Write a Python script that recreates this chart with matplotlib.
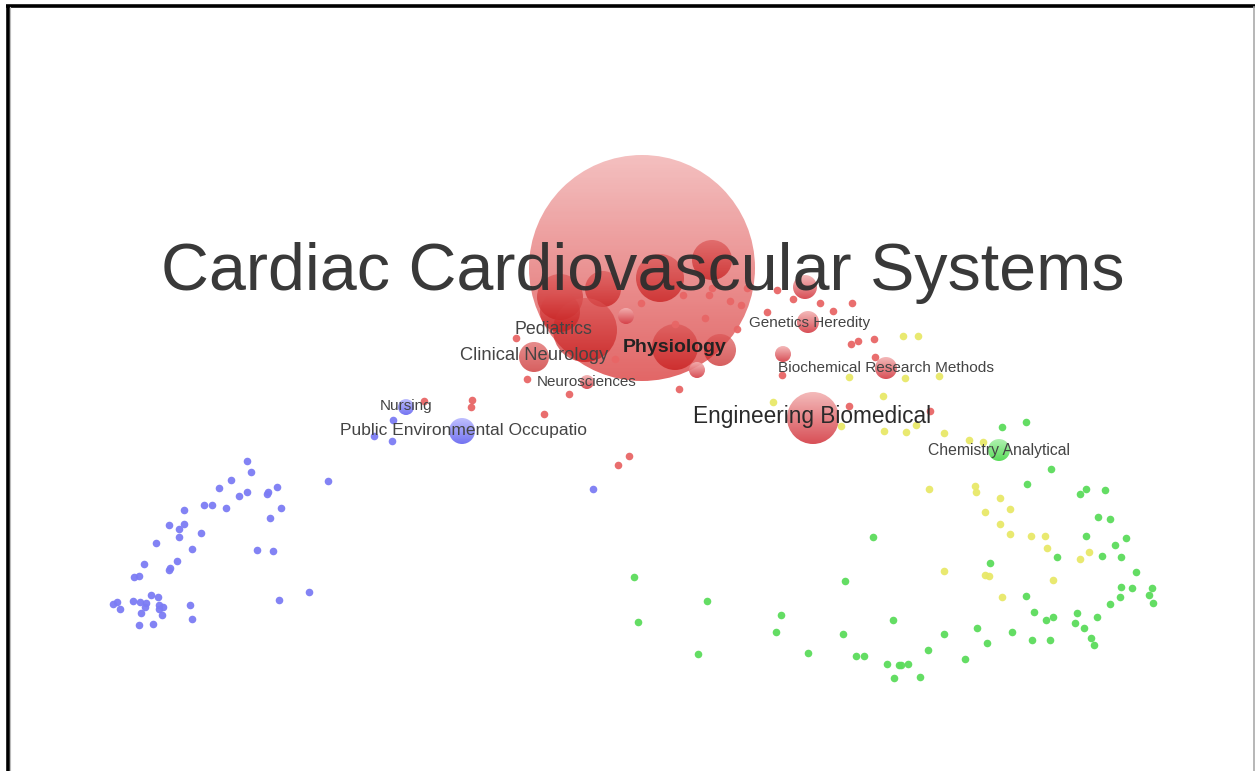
import numpy as np
import matplotlib
matplotlib.use("Agg")
import matplotlib.pyplot as plt
from matplotlib.patches import Circle
from matplotlib.colors import LinearSegmentedColormap

plt.rcParams['font.family'] = ['Liberation Sans', 'DejaVu Sans']

W, H = 1255, 771

# map coordinates (screen units of the map), radius per node
red_big_x = [642, 560, 603, 660, 712, 585, 560, 534, 675, 720, 626, 697, 587, 805, 808, 783, 813, 886]
red_big_y = [268, 297, 289, 278, 260, 330, 312, 357, 347, 350, 316, 370, 382, 287, 322, 354, 418, 368]
red_big_r = [113, 23, 18, 24, 20, 32, 20, 15, 23, 16, 8, 8, 7, 12, 11, 8, 26, 11]

red_x = [641, 683, 709, 730, 741, 712, 705, 675, 767, 737, 615, 527, 569, 679, 516, 777, 793, 820,
         852, 833, 747, 851, 858, 874, 875, 782, 849, 930, 424, 472, 471, 544, 629, 618]
red_y = [303, 295, 295, 301, 305, 288, 318, 324, 312, 329, 359, 379, 394, 389, 338, 290, 299, 303,
         303, 311, 288, 344, 341, 339, 357, 375, 406, 411, 401, 400, 407, 414, 456, 465]

blue_big_x = [406, 462]
blue_big_y = [407, 431]
blue_big_r = [8, 13]

blue_x = [247, 251, 231, 219, 328, 247, 239, 268, 267, 277, 281, 270, 204, 212, 226, 184, 169, 184,
          179, 179, 201, 192, 156, 257, 273, 144, 177, 170, 169, 134, 139, 309, 279, 151, 158, 133,
          140, 146, 145, 159, 163, 159, 113, 117, 120, 141, 162, 190, 192, 139, 153, 393, 374, 392, 593]
blue_y = [461, 472, 480, 488, 481, 492, 496, 492, 494, 487, 508, 518, 505, 505, 508, 510, 525, 524,
          529, 537, 533, 549, 543, 550, 551, 564, 561, 568, 570, 577, 576, 592, 600, 595, 597, 601,
          602, 603, 607, 605, 607, 609, 604, 602, 609, 613, 615, 605, 619, 625, 624, 420, 436, 441, 489]

green_big_x = [999]
green_big_y = [450]
green_big_r = [11]

green_x = [873, 634, 845, 707, 638, 781, 776, 893, 843, 698, 808, 856, 864, 887, 894, 899,
           1002, 1026, 1051, 1027, 1080, 1086, 1105, 1098, 1110, 1086, 1126, 1115, 1057, 1102, 1121,
           990, 1136, 1121, 1132, 1152, 1120, 1149, 1153, 1026, 1110, 1034, 1077, 1097, 1053, 1046,
           1075, 1084, 1091, 1094, 977, 1012, 1032, 1050, 944, 987, 928, 965, 901, 908, 920]
green_y = [537, 577, 581, 601, 622, 615, 632, 620, 634, 654, 653, 656, 656, 664, 678, 665,
           427, 422, 469, 484, 494, 489, 490, 517, 519, 536, 538, 545, 557, 556, 557,
           563, 572, 587, 588, 588, 597, 595, 603, 596, 604, 612, 613, 617, 617, 620,
           623, 628, 638, 645, 628, 632, 640, 640, 634, 643, 650, 659, 665, 664, 677]

yellow_x = [903, 918, 849, 905, 939, 883, 773, 841, 884, 906, 916, 944, 969, 983, 929, 975, 976,
            1000, 985, 1010, 1000, 1010, 1031, 1045, 1047, 1089, 1080, 944, 985, 989, 1053, 1002]
yellow_y = [336, 336, 377, 378, 376, 396, 402, 426, 431, 432, 425, 433, 440, 442, 489, 486, 492,
            498, 512, 509, 524, 534, 536, 536, 548, 552, 559, 571, 575, 576, 580, 597]

title_text = "Cardiac Cardiovascular Systems"
title_pos = (643, 273)

labels = ["Pediatrics", "Clinical Neurology", "Physiology", "Neurosciences", "Genetics Heredity",
          "Biochemical Research Methods", "Engineering Biomedical", "Chemistry Analytical",
          "Nursing", "Public Environmental Occupatio"]
label_x = [553, 534, 675, 587, 810, 886, 812, 999, 406, 463]
label_y = [329, 355, 347, 382, 323, 368, 417, 450, 406, 431]
label_size = [12.8, 13.2, 14, 10.9, 11, 11.1, 16.3, 11.3, 11, 12.5]
label_bold = [False, False, True, False, False, False, False, False, False, False]
label_color = ['#444444', '#444444', '#222222', '#444444', '#444444',
               '#444444', '#2a2a2a', '#444444', '#444444', '#444444']

fig = plt.figure(figsize=(W / 100, H / 100), dpi=100)
ax = fig.add_axes([0, 0, 1, 1])
ax.set_xlim(0, W)
ax.set_ylim(H, 0)
ax.axis('off')

grad = np.linspace(0, 1, 64).reshape(-1, 1)


def bubble(x, y, r, light, dark, alpha):
    cmap = LinearSegmentedColormap.from_list('g', [light, dark])
    c = Circle((x, y), r, transform=ax.transData, facecolor='none', edgecolor='none')
    ax.add_patch(c)
    im = ax.imshow(grad, cmap=cmap, extent=(x - r, x + r, y + r, y - r), origin='upper',
                   aspect='auto', alpha=alpha, interpolation='bilinear', zorder=2)
    im.set_clip_path(c)


def dots(xs, ys, color):
    ax.scatter(xs, ys, s=30, color=color, alpha=0.95, linewidths=0, zorder=3)


RED = ('#f3b2b2', '#d43c44')
BLUE = ('#b8b8ff', '#6464f0')
GREEN = ('#a8f0a8', '#48d848')

dots(red_x, red_y, '#e86666')
dots(blue_x, blue_y, '#7c7cf4')
dots(green_x, green_y, '#5cdc5c')
dots(yellow_x, yellow_y, '#e8e868')

for i, (x, y, r) in enumerate(zip(red_big_x, red_big_y, red_big_r)):
    if i == 0:
        bubble(x, y, r, '#f2b4b4', '#dd4c4c', 0.85)
    elif r >= 15 and i != 16:
        bubble(x, y, r, '#dc5656', '#c41414', 0.68)
    else:
        bubble(x, y, r, RED[0], RED[1], 0.9)
for x, y, r in zip(blue_big_x, blue_big_y, blue_big_r):
    bubble(x, y, r, BLUE[0], BLUE[1], 0.9)
for x, y, r in zip(green_big_x, green_big_y, green_big_r):
    bubble(x, y, r, GREEN[0], GREEN[1], 0.9)

ax.set_xlim(0, W)
ax.set_ylim(H, 0)

ax.text(title_pos[0], title_pos[1], title_text, fontsize=47.8, color='#2e2e2e', alpha=0.95,
        ha='center', va='center', zorder=5)
for t, x, y, s, b, c in zip(labels, label_x, label_y, label_size, label_bold, label_color):
    ax.text(x, y, t, fontsize=s, color=c, fontweight='bold' if b else 'normal',
            ha='center', va='center', zorder=5)

# frame of the map window
ax.plot([7.5, 7.5], [H, 5.5], color='black', lw=2.6, zorder=6, solid_capstyle='butt')
ax.plot([6, W], [5.5, 5.5], color='black', lw=2.6, zorder=6, solid_capstyle='butt')
ax.plot([9.8, 9.8], [H, 7], color='#bbbbbb', lw=0.8, zorder=6)
ax.plot([W - 1.5, W - 1.5], [7, H], color='#aaaaaa', lw=1.2, zorder=6)

fig.savefig('out.png', dpi=100)
